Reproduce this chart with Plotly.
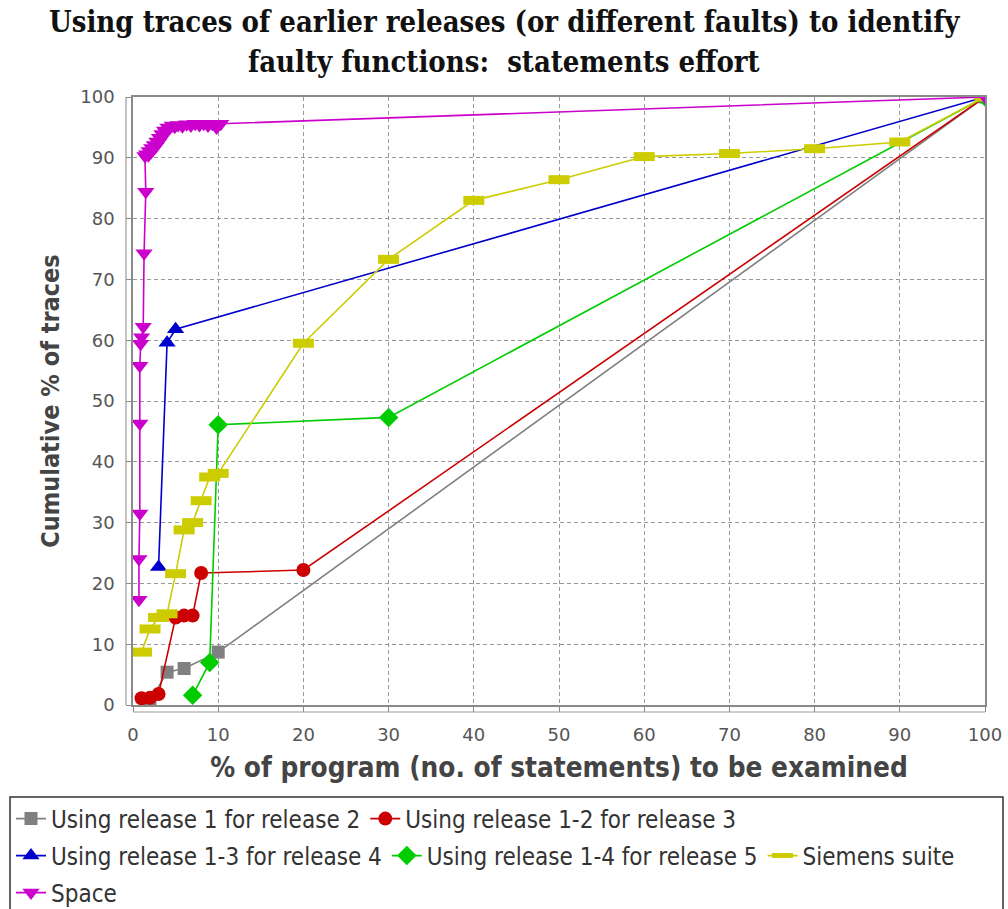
import plotly.graph_objects as go

# Percentage of program examined (x) vs cumulative percentage of traces (y)
rel2_x = [2, 4, 6, 10, 100]
rel2_y = [0.6, 5.4, 6.0, 8.7, 100]

rel3_x = [1, 2, 3, 5, 6, 7, 8, 20, 100]
rel3_y = [1.1, 1.2, 1.8, 14.4, 14.7, 14.7, 21.7, 22.2, 100]

rel4_x = [3, 4, 5, 100]
rel4_y = [22.7, 59.6, 61.8, 100]

rel5_x = [7, 9, 10, 30, 100]
rel5_y = [1.6, 7.0, 46.1, 47.3, 100]

siemens_x = [1, 2, 3, 4, 5, 6, 7, 8, 9, 10, 20, 30, 40, 50, 60, 70, 80, 90, 100]
siemens_y = [8.7, 12.5, 14.4, 15.0, 21.6, 28.8, 30.0, 33.6, 37.5, 38.1,
             59.5, 73.3, 83.0, 86.4, 90.2, 90.7, 91.5, 92.6, 100]

space_x = [0.7, 0.7, 0.8, 0.8, 0.8, 0.9, 1.0, 1.2, 1.3, 1.5, 1.4, 1.6, 1.8, 1.9,
           2.1, 2.2, 2.4, 2.5, 2.7, 2.8, 3.0, 3.1, 3.3, 3.4, 3.6, 3.7, 3.9, 4.1,
           4.3, 4.6, 4.9, 5.3, 5.8, 6.3, 6.8, 7.3, 7.8, 8.3, 8.8, 9.3, 9.8, 10.3,
           100]
space_y = [17.3, 24.0, 31.5, 46.3, 55.8, 59.4, 60.5, 62.2, 74.3, 84.4, 90.3, 90.6,
           90.4, 91.1, 90.9, 91.6, 91.4, 92.1, 91.9, 92.7, 92.5, 93.3, 93.1, 93.9,
           93.8, 94.5, 94.4, 95.0, 94.9, 95.3, 95.1, 95.4, 95.2, 95.5, 95.3, 95.6,
           95.4, 95.6, 95.3, 95.6, 95.0, 95.6, 100]

tick_vals = [0, 10, 20, 30, 40, 50, 60, 70, 80, 90, 100]
tick_text = ["0", "10", "20", "30", "40", "50", "60", "70", "80", "90", "100"]

title_lines = ["Using traces of earlier releases (or different faults) to identify",
               "faulty functions:  statements effort"]
x_title = "% of program (no. of statements) to be examined"
y_title = "Cumulative % of traces"

SANS_C = "DejaVu Sans Condensed, DejaVu Sans, sans-serif"
SANS = "DejaVu Sans, sans-serif"
SERIF_C = "DejaVu Serif Condensed, DejaVu Serif, serif"

# plot-area geometry in pixels
L, R, T, B = 133, 985, 97, 705
W, H = R - L, B - T


def px_x(p):
    return (p - L) / W


def px_y(p):
    return (B - p) / H


series = [
    ("Using release 1 for release 2", rel2_x, rel2_y, "#808080",
     dict(symbol="square", size=13), "legend"),
    ("Using release 1-2 for release 3", rel3_x, rel3_y, "#cc0000",
     dict(symbol="circle", size=14), "legend"),
    ("Using release 1-3 for release 4", rel4_x, rel4_y, "#0000cc",
     dict(symbol="triangle-up", size=15), "legend2"),
    ("Using release 1-4 for release 5", rel5_x, rel5_y, "#00cc00",
     dict(symbol="diamond", size=15), "legend2"),
    ("Siemens suite", siemens_x, siemens_y, "#cccc00",
     dict(symbol="line-ew", size=15, line=dict(width=9, color="#cccc00")), "legend2"),
    ("Space", space_x, space_y, "#cc00cc",
     dict(symbol="triangle-down", size=15), "legend3"),
]

fig = go.Figure()
for name, xs, ys, color, marker, leg in series:
    m = dict(color=color, **marker)
    if "line" not in m:
        m["line"] = dict(width=0)
    fig.add_trace(go.Scatter(
        x=xs, y=ys, name=name, mode="lines+markers",
        line=dict(color=color, width=1.6),
        marker=m, legend=leg,
    ))

# Title lines
for text, ypix in zip(title_lines, [22, 62]):
    fig.add_annotation(
        text=text, xref="paper", yref="paper",
        x=px_x(504), y=px_y(ypix),
        xanchor="center", yanchor="middle", showarrow=False,
        font=dict(family=SERIF_C, size=29, color="#111", weight="bold"),
    )

axis_common = dict(
    range=[0, 100], tickvals=tick_vals, ticktext=tick_text, automargin=False,
    showgrid=True, gridcolor="#9a9a9a", griddash="4px,3px", gridwidth=1,
    zeroline=False, showline=True, linecolor="#8a8a8a", linewidth=1.5,
    mirror=True, ticks="outside", ticklen=5, tickcolor="#8a8a8a",
    ticklabelstandoff=8,
    tickfont=dict(family=SANS, size=18, color="#555"),
)

fig.update_xaxes(
    **axis_common,
    title=dict(text=x_title, standoff=13,
               font=dict(family=SANS_C, size=27.7, color="#444", weight="bold")),
)
fig.update_yaxes(
    **axis_common,
    title=dict(text=y_title, standoff=14,
               font=dict(family=SANS_C, size=25, color="#444", weight="bold")),
)

# Offset axis lines just outside the plot frame
fig.add_shape(type="line", xref="paper", yref="paper",
              x0=px_x(126), x1=px_x(126), y0=0, y1=1,
              line=dict(color="#9a9a9a", width=1.2))
fig.add_shape(type="line", xref="paper", yref="paper",
              x0=0, x1=1, y0=px_y(712), y1=px_y(712),
              line=dict(color="#9a9a9a", width=1.2))

# Legend frame
fig.add_shape(type="rect", xref="paper", yref="paper",
              x0=px_x(10), x1=px_x(1003), y0=px_y(797), y1=px_y(915),
              line=dict(color="#333", width=1.5), fillcolor="white", layer="below")

leg_common = dict(orientation="h", xref="paper", yref="paper",
                  xanchor="left", yanchor="middle", bgcolor="rgba(0,0,0,0)",
                  borderwidth=0, itemwidth=30,
                  font=dict(family=SANS_C, size=24, color="#333"))
fig.update_layout(
    legend=dict(x=px_x(11), y=px_y(819), **leg_common),
    legend2=dict(x=px_x(11), y=px_y(856), **leg_common),
    legend3=dict(x=px_x(11), y=px_y(893), **leg_common),
    width=1008, height=909,
    margin=dict(l=L, r=1008 - R, t=T, b=909 - B, autoexpand=False),
    plot_bgcolor="white", paper_bgcolor="white",
)

fig.write_html("out.html")
